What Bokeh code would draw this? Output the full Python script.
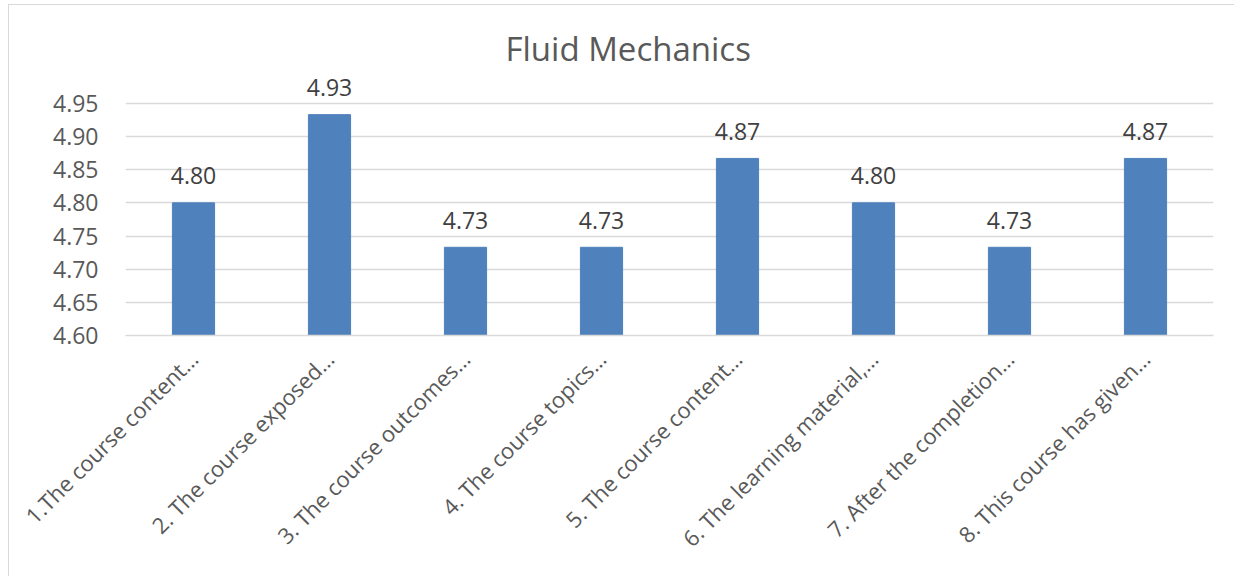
import math
from bokeh.plotting import figure
from bokeh.models import ColumnDataSource, FactorRange, Range1d, FixedTicker, NumeralTickFormatter
from bokeh.core.properties import value
from bokeh.embed import file_html
from bokeh.resources import INLINE

# ---- data ----
title_text = "Fluid Mechanics"
categories = [
    "1.The course content\u2026",
    "2. The course exposed\u2026",
    "3. The course outcomes\u2026",
    "4. The course topics\u2026",
    "5. The course content\u2026",
    "6. The learning material,\u2026",
    "7. After the completion\u2026",
    "8. This course has given\u2026",
]
scores = [4.80, 4.933, 4.733, 4.733, 4.867, 4.80, 4.733, 4.867]
y_ticks = [4.60, 4.65, 4.70, 4.75, 4.80, 4.85, 4.90, 4.95]
y_min, y_max = 4.60, 4.992

FONT = "Open Sans"
BAR = "#4F81BD"
GRID = "#d9d9d9"
LABEL = "#595959"

labels = [f"{v:.2f}" for v in scores]
source = ColumnDataSource(dict(cat=categories, score=scores, label=labels))

p = figure(
    x_range=FactorRange(*categories),
    y_range=Range1d(y_min, y_max),
    width=1226, height=572,
    output_backend="svg", toolbar_location=None,
    min_border_left=116, min_border_right=22,
    min_border_top=70, min_border_bottom=242,
)
p.styles = {
    "border-left": "1px solid #d9d9d9",
    "border-top": "1px solid #d9d9d9",
    "margin-left": "8px",
    "margin-top": "4px",
}

p.vbar(x="cat", top="score", bottom=y_min, width=0.31, source=source,
       fill_color=BAR, line_color=BAR)
p.text(x="cat", y="score", text="label", source=source,
       text_align="center", text_baseline="alphabetic", y_offset=-27,
       text_font=value(FONT), text_font_size="23px", text_color="#404040")

p.title.text = title_text
p.title.align = "left"
p.title.offset = 380
p.title.standoff = 10
p.title.text_font = FONT
p.title.text_font_size = "33px"
p.title.text_font_style = "normal"
p.title.text_color = LABEL

p.outline_line_color = None
p.xgrid.grid_line_color = None
p.ygrid.grid_line_color = GRID
p.ygrid.grid_line_width = 1.3

p.yaxis.ticker = FixedTicker(ticks=y_ticks)
p.yaxis.formatter = NumeralTickFormatter(format="0.00")
p.yaxis.axis_line_color = None
p.yaxis.major_tick_line_color = None
p.yaxis.minor_tick_line_color = None
p.yaxis.major_label_standoff = 21
p.yaxis.major_label_text_font = FONT
p.yaxis.major_label_text_font_size = "23px"
p.yaxis.major_label_text_color = LABEL

p.xaxis.axis_line_color = GRID
p.xaxis.axis_line_width = 1.3
p.xaxis.major_tick_line_color = None
p.xaxis.major_label_orientation = math.pi / 4
p.xaxis.major_label_standoff = 13
p.xaxis.major_label_text_font = FONT
p.xaxis.major_label_text_font_size = "22px"
p.xaxis.major_label_text_color = LABEL

open("out.html", "w").write(file_html(p, INLINE))
